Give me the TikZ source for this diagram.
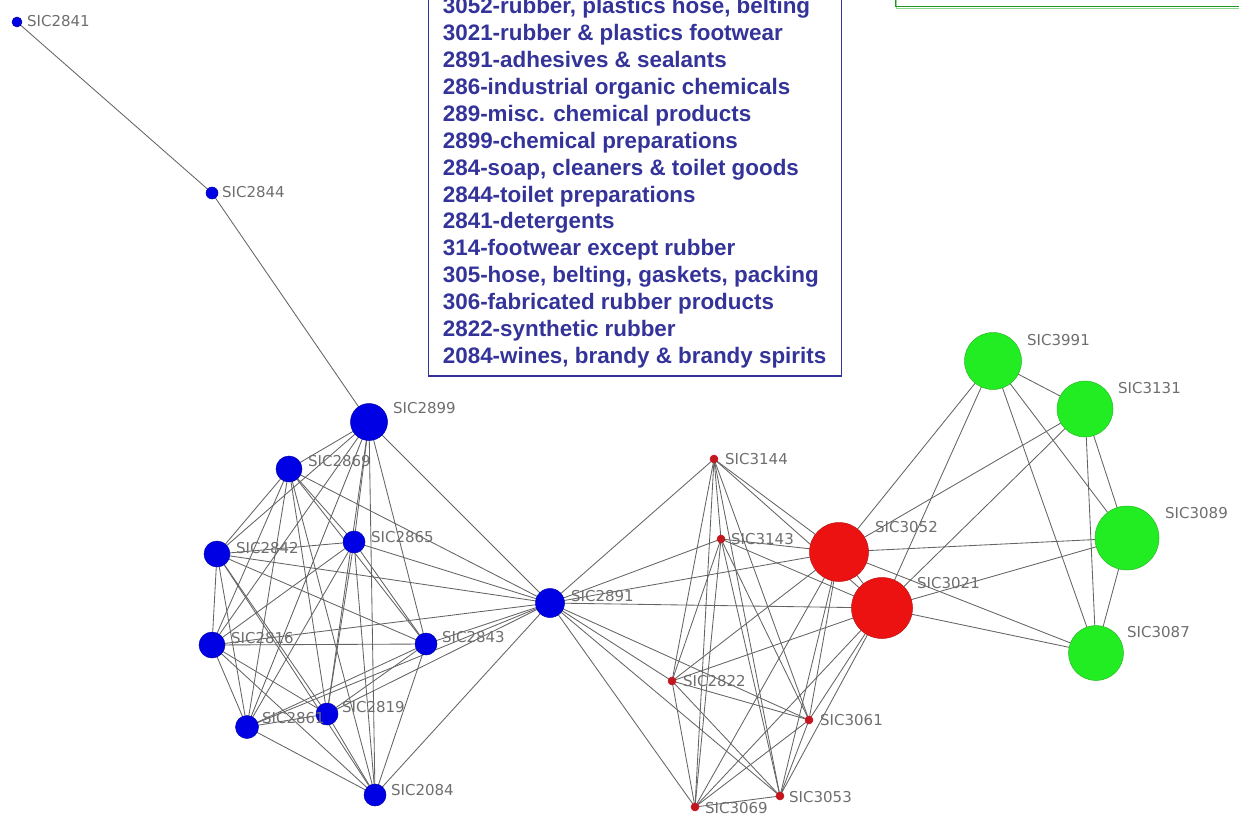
\documentclass[tikz,border=0pt]{standalone}
\usepackage{fontspec}
\setmainfont{Liberation Sans}
\newfontfamily\labelfont{DejaVu Sans}
\pgfdeclarelayer{bg}
\pgfsetlayers{bg,main}

\definecolor{edgegray}{RGB}{100,100,100}
\definecolor{nodeblue}{RGB}{0,0,228}
\definecolor{blueline}{RGB}{0,0,175}
\definecolor{nodered}{RGB}{236,18,18}
\definecolor{redline}{RGB}{185,20,20}
\definecolor{smallred}{RGB}{196,22,30}
\definecolor{nodegreen}{RGB}{34,236,34}
\definecolor{greenline}{RGB}{40,185,40}
\definecolor{legendblue}{RGB}{51,51,153}
\definecolor{labelgray}{RGB}{110,110,110}
\definecolor{framegreen}{RGB}{34,150,34}
\definecolor{framegreenlight}{RGB}{140,215,140}

\tikzset{
  vtx/.style={circle, inner sep=0pt, line width=0.5pt},
  bluev/.style={vtx, fill=nodeblue, draw=blueline},
  redv/.style={vtx, fill=nodered, draw=redline},
  dotv/.style={vtx, fill=smallred, draw=smallred, minimum size=8pt},
  greenv/.style={vtx, fill=nodegreen, draw=greenline},
  sic/.style={anchor=west, inner sep=0pt, text=labelgray,
    font=\labelfont\fontsize{15}{15}\selectfont},
  link/.style={draw=edgegray, line width=0.85pt},
  legendline/.style={anchor=base west, inner sep=0pt, text=legendblue,
    font=\bfseries\fontsize{22.4}{22.4}\selectfont}
}

\begin{document}
\begin{tikzpicture}[x=1pt,y=-1pt]
\useasboundingbox (0,0) rectangle (1239,821);
\clip (0,0) rectangle (1239,821);

% legend frame and industry codes
\draw[legendblue, line width=1.3pt] (428.3,-20) rectangle (841.7,376) coordinate (legcorner);
\foreach \txt [count=\k] in {
  {3052-rubber, plastics hose, belting},
  {3021-rubber \& plastics footwear},
  {2891-adhesives \& sealants},
  {286-industrial organic chemicals},
  {289-misc. chemical products},
  {2899-chemical preparations},
  {284-soap, cleaners \& toilet goods},
  {2844-toilet preparations},
  {2841-detergents},
  {314-footwear except rubber},
  {305-hose, belting, gaskets, packing},
  {306-fabricated rubber products},
  {2822-synthetic rubber},
  {2084-wines, brandy \& brandy spirits}}
  \node[legendline] (leg\k) at (442.7, {13.8 + 26.9*(\k-1)}) {\txt};

% second frame at the top right
\draw[framegreenlight, line width=1pt] (896.8,-20) |- (1260,8.2);
\draw[framegreen, line width=1.4pt] (895.3,-20) |- (1260,6.6);

% SIC industries
\node[bluev, minimum size=10pt] (n2841) at (17,22) {};
\node[bluev, minimum size=12pt] (n2844) at (212,193) {};
\node[bluev, minimum size=37pt] (n2899) at (369,422) {};
\node[bluev, minimum size=26pt] (n2869) at (289,469) {};
\node[bluev, minimum size=22pt] (n2865) at (354,542) {};
\node[bluev, minimum size=26pt] (n2842) at (217,554) {};
\node[bluev, minimum size=26pt] (n2816) at (212,645) {};
\node[bluev, minimum size=22pt] (n2843) at (426,644) {};
\node[bluev, minimum size=23pt] (n2861) at (247,727) {};
\node[bluev, minimum size=22pt] (n2819) at (327,714) {};
\node[bluev, minimum size=22pt] (n2084) at (375,795) {};
\node[bluev, minimum size=29pt] (n2891) at (550,603) {};

\node[dotv] (n3144) at (714,459) {};
\node[dotv] (n3143) at (721,539) {};
\node[dotv] (n2822) at (672,681) {};
\node[dotv] (n3061) at (809,720) {};
\node[dotv] (n3053) at (780,796) {};
\node[dotv] (n3069) at (695,807) {};
\node[redv, minimum size=59pt] (n3052) at (839,552) {};
\node[redv, minimum size=61pt] (n3021) at (882,608) {};

\node[greenv, minimum size=57pt] (n3991) at (993,361) {};
\node[greenv, minimum size=56pt] (n3131) at (1085,409) {};
\node[greenv, minimum size=64pt] (n3089) at (1127,538) {};
\node[greenv, minimum size=55pt] (n3087) at (1096,653) {};

% names of the industries
\node[sic] (t2841) at (27,21) {SIC2841};
\node[sic] (t2844) at (222,192) {SIC2844};
\node[sic] (t2899) at (393,408) {SIC2899};
\node[sic] (t2869) at (308,461) {SIC2869};
\node[sic] (t2865) at (371,537) {SIC2865};
\node[sic] (t2842) at (236,548) {SIC2842};
\node[sic] (t2816) at (231,638) {SIC2816};
\node[sic] (t2843) at (442,637) {SIC2843};
\node[sic] (t2861) at (262,718) {SIC2861};
\node[sic] (t2819) at (342,707) {SIC2819};
\node[sic] (t2084) at (391,790) {SIC2084};
\node[sic] (t2891) at (571,596) {SIC2891};
\node[sic] (t3144) at (725,459) {SIC3144};
\node[sic] (t3143) at (731,539) {SIC3143};
\node[sic] (t2822) at (683,681) {SIC2822};
\node[sic] (t3061) at (820,720) {SIC3061};
\node[sic] (t3053) at (789,797) {SIC3053};
\node[sic] (t3069) at (705,808) {SIC3069};
\node[sic] (t3052) at (875,527) {SIC3052};
\node[sic] (t3021) at (917,583) {SIC3021};
\node[sic] (t3991) at (1027,340) {SIC3991};
\node[sic] (t3131) at (1118,388) {SIC3131};
\node[sic] (t3089) at (1165,513) {SIC3089};
\node[sic] (t3087) at (1127,632) {SIC3087};

% links, drawn underneath the circles
\begin{pgfonlayer}{bg}
  \draw[link] (n2841.center) -- (n2844.center);
  \draw[link] (n2844.center) -- (n2899.center);
  % chemicals group (fully linked, with the adhesives hub)
  \foreach \a [count=\i] in {n2899,n2869,n2865,n2842,n2816,n2843,n2861,n2819,n2084,n2891}
    \foreach \b [count=\j] in {n2899,n2869,n2865,n2842,n2816,n2843,n2861,n2819,n2084,n2891}
      {\ifnum\j>\i \draw[link] (\a.center) -- (\b.center);\fi}
  % rubber group (fully linked)
  \foreach \a [count=\i] in {n3144,n3143,n2822,n3061,n3053,n3069,n3052,n3021}
    \foreach \b [count=\j] in {n3144,n3143,n2822,n3061,n3053,n3069,n3052,n3021}
      {\ifnum\j>\i \draw[link] (\a.center) -- (\b.center);\fi}
  % adhesives hub to the rubber group
  \foreach \b in {n3144,n3143,n2822,n3061,n3053,n3069,n3052,n3021}
    \draw[link] (n2891.center) -- (\b.center);
  % plastics group (fully linked)
  \foreach \a [count=\i] in {n3991,n3131,n3089,n3087}
    \foreach \b [count=\j] in {n3991,n3131,n3089,n3087}
      {\ifnum\j>\i \draw[link] (\a.center) -- (\b.center);\fi}
  % rubber and plastics footwear/hose to the plastics group
  \foreach \a in {n3052,n3021}
    \foreach \b in {n3991,n3131,n3089,n3087}
      \draw[link] (\a.center) -- (\b.center);
\end{pgfonlayer}
\end{tikzpicture}
\end{document}
